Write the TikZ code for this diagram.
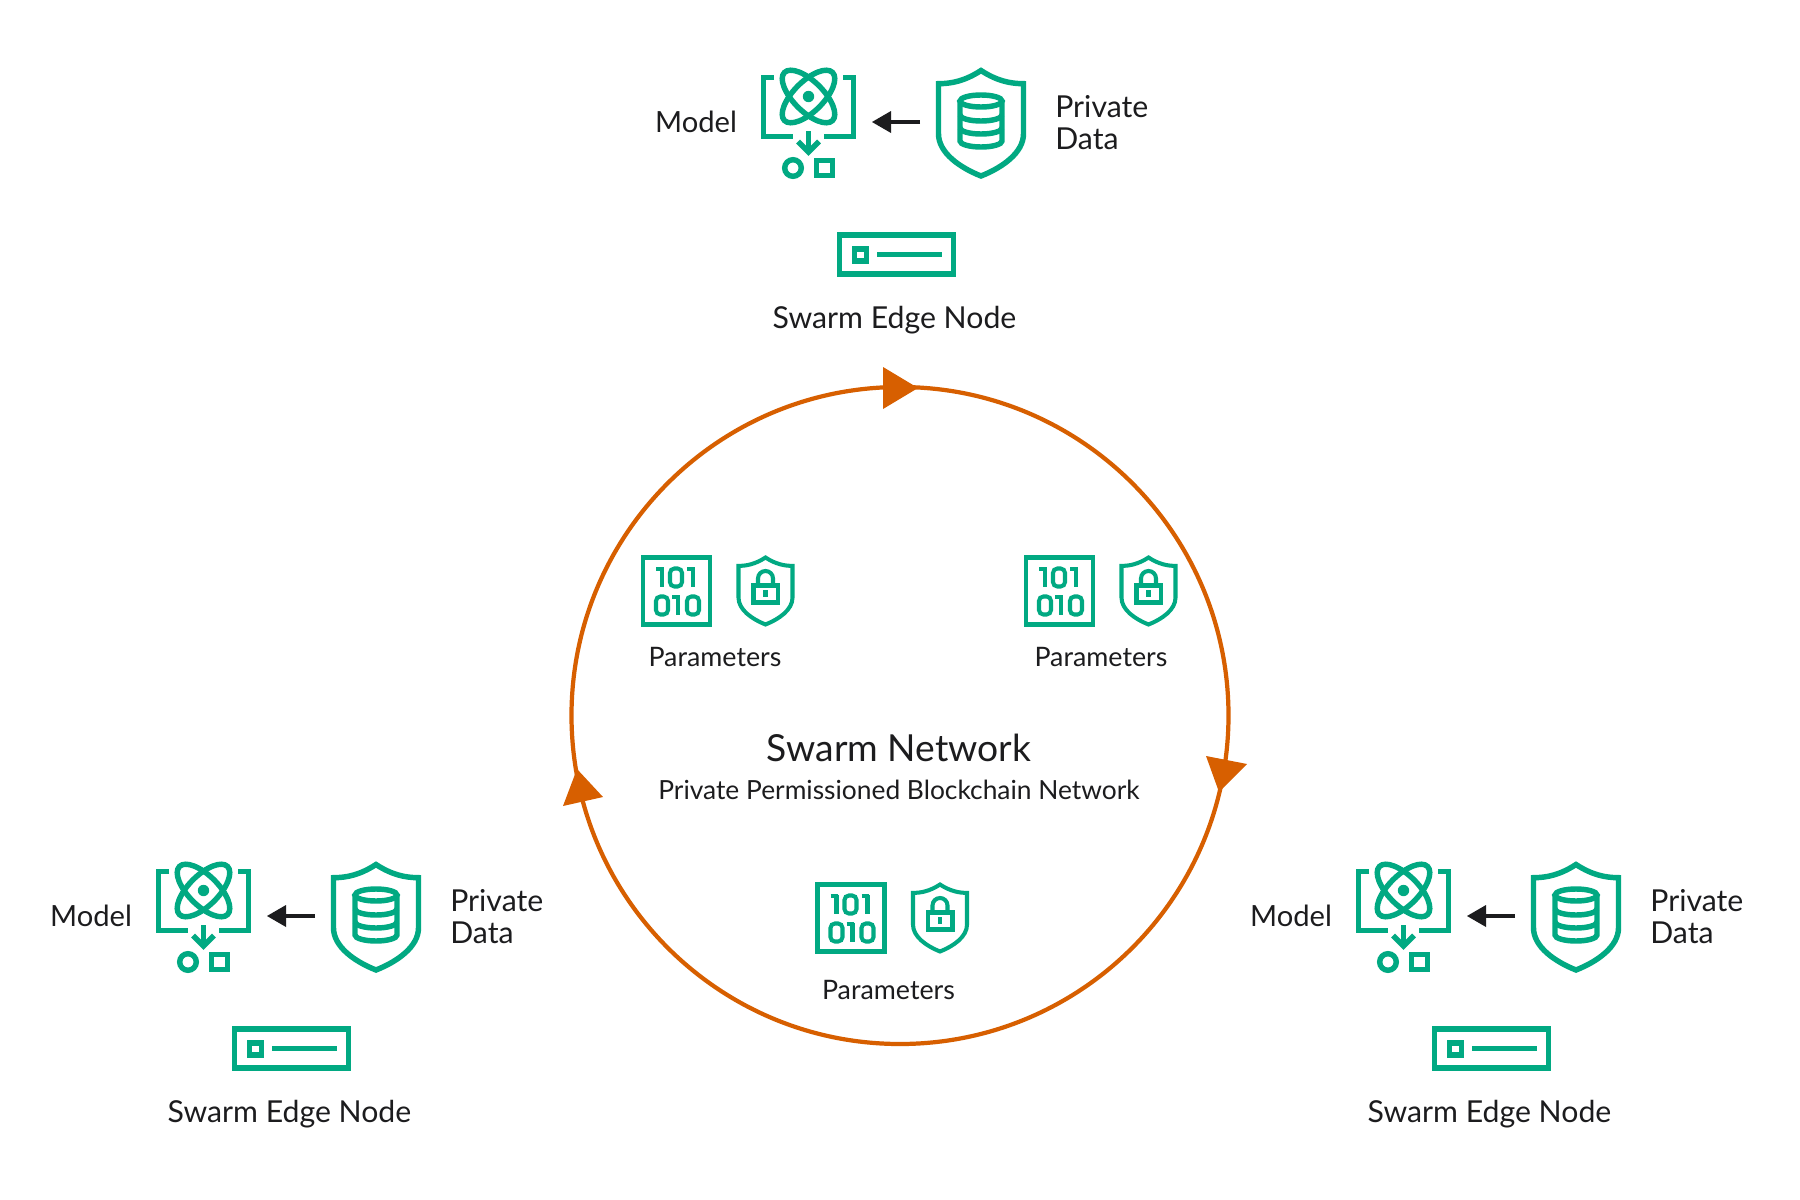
\documentclass[tikz,border=0pt]{standalone}
\usepackage{fontspec}
\setmainfont{Lato}
\definecolor{hgreen}{HTML}{01A982}
\definecolor{horange}{HTML}{D75F00}
\definecolor{htext}{HTML}{1C1C1E}
\tikzset{
  ico/.style={draw=hgreen,line width=3.1pt,line cap=butt,line join=miter},
  icofine/.style={draw=hgreen,line width=2.3pt,line cap=butt,line join=miter},
  lab/.style={text=htext,inner sep=0pt},
  labl/.style={lab,anchor=west,align=left},
  plab/.style={text=htext,inner sep=0pt,font=\fontsize{15.25}{17}\selectfont},
  ring/.style={draw=horange,line width=2.4pt},
  tipfill/.style={fill=horange,draw=none},
  blackline/.style={draw=htext,line width=2pt},
}
\newcommand{\shieldpath}{(0,0) .. controls (-.38,.1) and (-.7,.125) .. (-1,.125) -- (-1,.6) .. controls (-1,.78) and (-.5,.92) .. (0,1) .. controls (.5,.92) and (1,.78) .. (1,.6) -- (1,.125) .. controls (.7,.125) and (.38,.1) .. (0,0) -- cycle}
\newcommand{\edgegroup}[3]{% prefix, dx, dy
\begin{scope}[shift={(#2,#3)}]
  % brackets
  \draw[ico] (774,77.5) -- (763.5,77.5) -- (763.5,136.5) -- (793,136.5);
  \draw[ico] (843,77.5) -- (853.5,77.5) -- (853.5,136.5) -- (824,136.5);
  % atom
  \draw[ico,rotate around={45:(808.5,96.5)}] (808.5,96.5) ellipse [x radius=34,y radius=15];
  \draw[ico,rotate around={-45:(808.5,96.5)}] (808.5,96.5) ellipse [x radius=34,y radius=15];
  \fill[hgreen] (808.5,96.5) circle (5.7);
  % down arrow
  \draw[ico] (808.5,131) -- (808.5,152);
  \draw[ico] (798,141.5) -- (808.5,152) -- (819,141.5);
  \draw[ico] (793,168) circle (8.3);
  \draw[ico] (816.5,160.5) rectangle (832.5,175.5);
  % shield and database
  \begin{scope}[shift={(981,70.5)},xscale=42.5,yscale=105.5]
    \draw[ico] \shieldpath;
  \end{scope}
  \draw[ico] (981,101) ellipse [x radius=21,y radius=6];
  \draw[ico] (960,101) -- (960,141) arc[start angle=180,end angle=360,x radius=21,y radius=-6] -- (1002,101);
  \draw[ico] (960,115) arc[start angle=180,end angle=360,x radius=21,y radius=-6];
  \draw[ico] (960,128) arc[start angle=180,end angle=360,x radius=21,y radius=-6];
  % server
  \draw[ico] (839.5,235) rectangle (953.5,274);
  \draw[ico] (854.5,249) rectangle (866.5,261);
  \draw[ico] (877,254.5) -- (942,254.5);
  % arrow between icons
  \coordinate (#1src) at (920,122);
  \coordinate (#1dst) at (872,122);
  \coordinate (#1neck) at (891,122);
  \draw[blackline] (#1src) -- (#1neck);
  \fill[htext] (#1dst) -- (891,111) -- (891,133) -- cycle;
  % labels
  \node[lab,font=\fontsize{16.6}{19}\selectfont] (#1model) at (696,122) {Model};
  \node[labl,font=\fontsize{17.2}{18.4}\selectfont] (#1priv) at (1055,122.5) {Private\\Data};
  \node[lab,font=\fontsize{17.2}{19}\selectfont] (#1edge) at (894.5,320) {Swarm Edge Node};
\end{scope}}
\newcommand{\digone}[2]{\draw[icofine] (#1+6,#2) -- (#1+6,#2+19) (#1,#2+1.6) -- (#1+7.5,#2+1.6);}
\newcommand{\digzero}[2]{\draw[icofine,rounded corners=2.5pt] (#1,#2) rectangle (#1+12,#2+18);}
\newcommand{\paramgroup}[5]{% prefix, dx, dy, label x, label y
\begin{scope}[shift={(#2,#3)}]
  \draw[icofine] (643,558) rectangle (710,625);
  \digone{656}{568}
  \digzero{670}{569}
  \digone{687}{568}
  \digzero{656}{597}
  \digone{672}{596}
  \digzero{687}{597}
  \begin{scope}[shift={(765.5,558)},xscale=27,yscale=67]
    \draw[icofine] \shieldpath;
  \end{scope}
  \draw[icofine] (753.5,586) rectangle (778,603);
  \draw[icofine] (758,586) -- (758,579) arc[start angle=180,end angle=0,x radius=7.5,y radius=-7.5] -- (773,586);
  \draw[icofine] (765.5,590.5) -- (765.5,597);
\end{scope}
\node[plab] (#1lab) at (#4,#5) {Parameters};}
\begin{document}
\begin{tikzpicture}[x=0.02cm,y=-0.02cm]
\useasboundingbox[fill=white] (0,0) rectangle (1800,1200);
\edgegroup{t}{0}{0}
\edgegroup{l}{-605}{794}
\edgegroup{r}{595}{794}
\paramgroup{pa}{0}{-0.5}{715}{657}
\paramgroup{pb}{383}{-0.5}{1101}{657}
\paramgroup{pc}{174.5}{326.5}{888.5}{990}
\coordinate (ringc) at (900,715.5);
\draw[ring] (ringc) circle (328.5);
\fill[tipfill] (918,388) -- (883,367) -- (883,409) -- cycle;
\fill[tipfill] (1219,792) -- (1206,756) -- (1247,764) -- cycle;
\fill[tipfill] (577,769) -- (563,806) -- (603,797) -- cycle;
\node[text=htext,inner sep=0pt,font=\fontsize{21.2}{24}\selectfont] (title) at (899,748) {Swarm Network};
\node[plab,font=\fontsize{15}{18}\selectfont] (sub) at (899,790) {Private Permissioned Blockchain Network};
\end{tikzpicture}
\end{document}
